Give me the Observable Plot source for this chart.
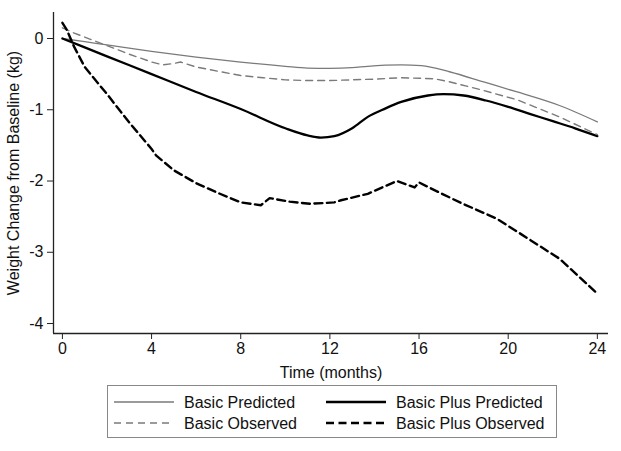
<!DOCTYPE html>
<html><head><meta charset="utf-8">
<script src="https://cdn.jsdelivr.net/npm/d3@7"></script>
<script src="https://cdn.jsdelivr.net/npm/@observablehq/plot@0.6"></script>
<style>
body{margin:0;background:#fff;font-family:"Liberation Sans",Arial,sans-serif;}
#wrap{position:relative;width:621px;height:451px;overflow:hidden;}
#legend{position:absolute;left:107px;top:385px;width:448px;height:51px;border:1px solid #888;box-sizing:content-box;}
#legend svg{display:block;}
</style></head><body>
<div id="wrap"><div id="chart"></div><div id="legend"></div></div>
<script>
// tick values
const xTicks = [0, 4, 8, 12, 16, 20, 24];
const yTicks = [-4, -3, -2, -1, 0];

// Basic Predicted
const bpMonths = [0, 1, 2, 4, 6, 8, 10, 11, 12, 13, 13.7, 15.2, 16.1, 17.4, 18.9, 20.4, 22.3, 24];
const bpValues = [0, -0.045, -0.09, -0.18, -0.26, -0.33, -0.39, -0.415, -0.42, -0.41, -0.39, -0.37, -0.38, -0.47, -0.61, -0.75, -0.94, -1.17];

// Basic Plus Predicted
const bppMonths = [0, 2, 4, 6, 8, 10, 11, 11.6, 12.2, 13, 13.7, 14.5, 15.2, 16.4, 17.1, 18, 19, 20, 21, 22, 23, 24];
const bppValues = [0, -0.25, -0.5, -0.75, -0.99, -1.26, -1.36, -1.39, -1.37, -1.26, -1.10, -0.98, -0.89, -0.80, -0.78, -0.80, -0.87, -0.96, -1.06, -1.16, -1.26, -1.37];

// Basic Observed
const boMonths = [0, 0.5, 1, 2, 3, 4, 4.5, 5, 5.3, 6, 7, 8, 9, 10, 11, 12, 13, 14, 15.2, 16.7, 17.4, 18.9, 20.4, 22.3, 24];
const boValues = [0.15, 0.08, 0.02, -0.1, -0.22, -0.33, -0.37, -0.35, -0.33, -0.40, -0.46, -0.52, -0.55, -0.58, -0.59, -0.59, -0.58, -0.57, -0.55, -0.565, -0.61, -0.73, -0.86, -1.10, -1.35];

// Basic Plus Observed
const bpoMonths = [0, 0.2, 0.5, 1, 2, 3, 4, 4.2, 5, 6, 7, 8, 8.9, 9.3, 10.2, 11.1, 12.2, 12.5, 13.7, 15, 15.8, 16, 16.9, 17.9, 19.5, 21, 22.3, 24];
const bpoValues = [0.22, 0.12, -0.1, -0.4, -0.78, -1.18, -1.55, -1.64, -1.85, -2.03, -2.17, -2.30, -2.34, -2.24, -2.29, -2.32, -2.30, -2.27, -2.18, -2.00, -2.09, -2.02, -2.16, -2.31, -2.53, -2.83, -3.09, -3.58];

const seriesNames = ["Basic Predicted", "Basic Plus Predicted", "Basic Observed", "Basic Plus Observed"];

const styles = {
  "Basic Predicted": {stroke: "#7a7a7a", strokeWidth: 1.3, dash: null, curve: "monotone-x"},
  "Basic Plus Predicted": {stroke: "#000", strokeWidth: 2.3, dash: null, curve: "monotone-x"},
  "Basic Observed": {stroke: "#7a7a7a", strokeWidth: 1.4, dash: "7,5", curve: "linear"},
  "Basic Plus Observed": {stroke: "#000", strokeWidth: 2.4, dash: "8,4.5", curve: "linear"}
};

const tables = {
  "Basic Predicted": bpMonths.map((t, i) => ({t, v: bpValues[i]})),
  "Basic Plus Predicted": bppMonths.map((t, i) => ({t, v: bppValues[i]})),
  "Basic Observed": boMonths.map((t, i) => ({t, v: boValues[i]})),
  "Basic Plus Observed": bpoMonths.map((t, i) => ({t, v: bpoValues[i]}))
};

const xDom = [-0.4, 24.5];
const yDom = [-4.14, 0.365];
const font = "'Liberation Sans', Arial, sans-serif";

const chart = Plot.plot({
  width: 621, height: 380,
  marginLeft: 53, marginRight: 13, marginTop: 12, marginBottom: 47,
  style: {fontFamily: font, fontSize: "16px", color: "#111", background: "#fff", overflow: "visible"},
  x: {domain: xDom},
  y: {domain: yDom},
  marks: [
    Plot.ruleX([xDom[0]], {stroke: "#222", strokeWidth: 1.3}),
    Plot.ruleY([yDom[0]], {stroke: "#222", strokeWidth: 1.3}),
    Plot.axisX({ticks: xTicks, tickSize: 6, tickPadding: 3, tickFormat: d => String(d), stroke: "#222",
      label: "Time (months)", labelAnchor: "center", labelArrow: "none", labelOffset: 44}),
    Plot.axisY({ticks: yTicks, tickSize: 6, tickPadding: 4, tickFormat: d => String(d), stroke: "#222",
      label: "Weight Change from Baseline (kg)", labelAnchor: "center", labelArrow: "none", labelOffset: 46}),
    ...seriesNames.map(n => Plot.line(tables[n], {
      x: "t", y: "v", stroke: styles[n].stroke, strokeWidth: styles[n].strokeWidth,
      strokeDasharray: styles[n].dash, curve: styles[n].curve, strokeLinejoin: "round"
    }))
  ]
});
document.getElementById("chart").appendChild(chart);

// legend
const legendOrder = [
  ["Basic Predicted", 0, 0], ["Basic Plus Predicted", 1, 0],
  ["Basic Observed", 0, 1], ["Basic Plus Observed", 1, 1]
];
const lg = d3.select("#legend").append("svg").attr("width", 448).attr("height", 51)
  .style("font-family", font).style("font-size", "16px");
const colX = [6, 218], rowY = [16, 37];
for (const [name, c, r] of legendOrder) {
  const s = styles[name];
  lg.append("line").attr("x1", colX[c]).attr("x2", colX[c] + 60)
    .attr("y1", rowY[r]).attr("y2", rowY[r])
    .attr("stroke", s.stroke).attr("stroke-width", s.strokeWidth)
    .attr("stroke-dasharray", s.dash);
  lg.append("text").attr("x", colX[c] + 70).attr("y", rowY[r]).attr("dy", "0.36em")
    .attr("fill", "#111").text(name);
}
</script>
</body></html>
